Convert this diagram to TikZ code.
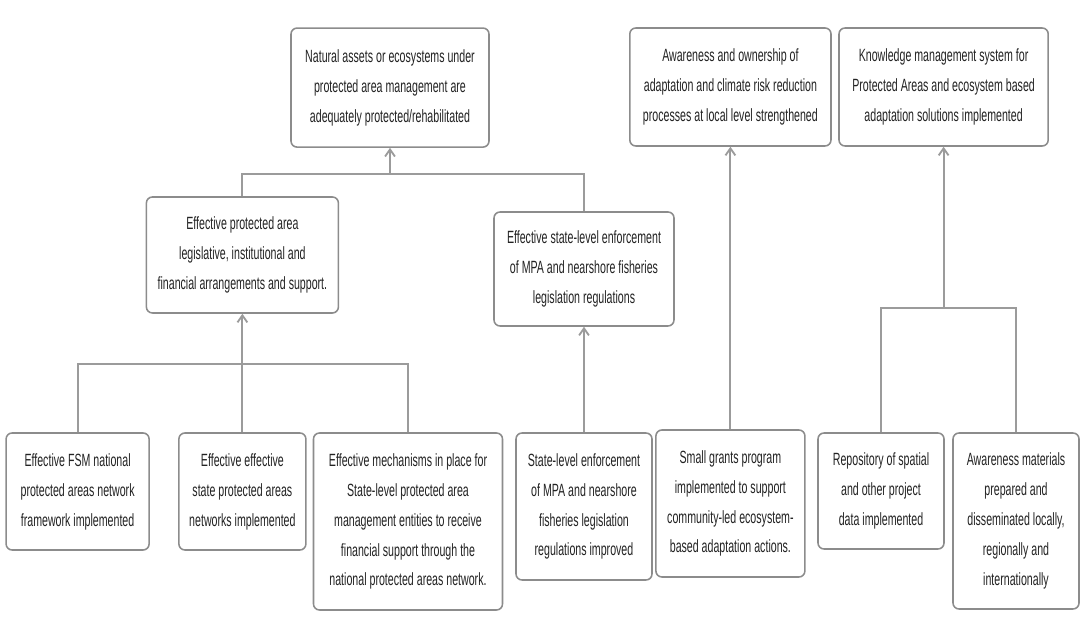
\documentclass[tikz,border=0pt]{standalone}
\usepackage{fontspec}
\setmainfont{Liberation Sans}[FakeStretch=0.6]
\usepackage{tikz}
\usetikzlibrary{arrows.meta}
\definecolor{boxgray}{RGB}{140,140,140}
\definecolor{linkgray}{RGB}{155,155,155}
\definecolor{textgray}{RGB}{35,35,35}
\tikzset{
goalbox/.style={draw=boxgray,line width=1.1pt,rounded corners=0.15cm,fill=white,align=center,text=textgray,font=\fontsize{12.6}{21.3}\selectfont,inner sep=2pt},
link/.style={draw=linkgray,line width=1.3pt},
>={Straight Barb[length=5pt,width=7pt]}
}
\begin{document}
\begin{tikzpicture}
\useasboundingbox (0,0) rectangle (27.225,15.6);
\node[goalbox,minimum width=4.95cm,minimum height=2.975cm] (oc1) at (9.75,13.41) {Natural assets or ecosystems under\\protected area management are\\adequately protected/rehabilitated};
\node[goalbox,minimum width=5.03cm,minimum height=2.95cm] (oc2) at (18.26,13.425) {Awareness and ownership of\\adaptation and climate risk reduction\\processes at local level strengthened};
\node[goalbox,minimum width=5.23cm,minimum height=2.95cm] (oc3) at (23.59,13.425) {Knowledge management system for\\Protected Areas and ecosystem based\\adaptation solutions implemented};
\node[goalbox,minimum width=4.8cm,minimum height=2.9cm] (op1) at (6.06,9.225) {Effective protected area\\legislative, institutional and\\financial arrangements and support.};
\node[goalbox,minimum width=4.5cm,minimum height=2.85cm] (op2) at (14.6,8.875) {Effective state-level enforcement\\of MPA and nearshore fisheries\\legislation regulations};
\node[goalbox,minimum width=3.575cm,minimum height=2.925cm] (ac1) at (1.94,3.3125) {Effective FSM national\\protected areas network\\framework implemented};
\node[goalbox,minimum width=3.175cm,minimum height=2.925cm] (ac2) at (6.06,3.3125) {Effective effective\\state protected areas\\networks implemented};
\node[goalbox,minimum width=4.725cm,minimum height=4.425cm] (ac3) at (10.2,2.5625) {Effective mechanisms in place for\\State-level protected area\\management entities to receive\\financial support through the\\national protected areas network.};
\node[goalbox,minimum width=3.4cm,minimum height=3.675cm] (ac4) at (14.6,2.9375) {State-level enforcement\\of MPA and nearshore\\fisheries legislation\\regulations improved};
\node[goalbox,minimum width=3.725cm,minimum height=3.675cm] (ac5) at (18.26,3.0125) {Small grants program\\implemented to support\\community-led ecosystem-\\based adaptation actions.};
\node[goalbox,minimum width=3.15cm,minimum height=2.9cm] (ac6) at (22.025,3.325) {Repository of spatial\\and other project\\data implemented};
\node[goalbox,minimum width=3.15cm,minimum height=4.4cm] (ac7) at (25.4,2.575) {Awareness materials\\prepared and\\disseminated locally,\\regionally and\\internationally};
\coordinate (barTop) at (9.75,11.25);
\coordinate (barLeft) at (6.06,6.5);
\coordinate (barRight) at (23.59,7.9);
\draw[link] (op1.north) |- (barTop);
\draw[link] (op2.north) |- (barTop);
\draw[link,->] (barTop) -- (oc1.south);
\draw[link] (ac1.north) |- (barLeft);
\draw[link] (ac3.north) |- (barLeft);
\draw[link,->] (ac2.north) -- (op1.south);
\draw[link,->] (ac4.north) -- (op2.south);
\draw[link,->] (ac5.north) -- (oc2.south);
\draw[link] (ac6.north) |- (barRight);
\draw[link] (ac7.north) |- (barRight);
\draw[link,->] (barRight) -- (oc3.south);
\end{tikzpicture}
\end{document}
